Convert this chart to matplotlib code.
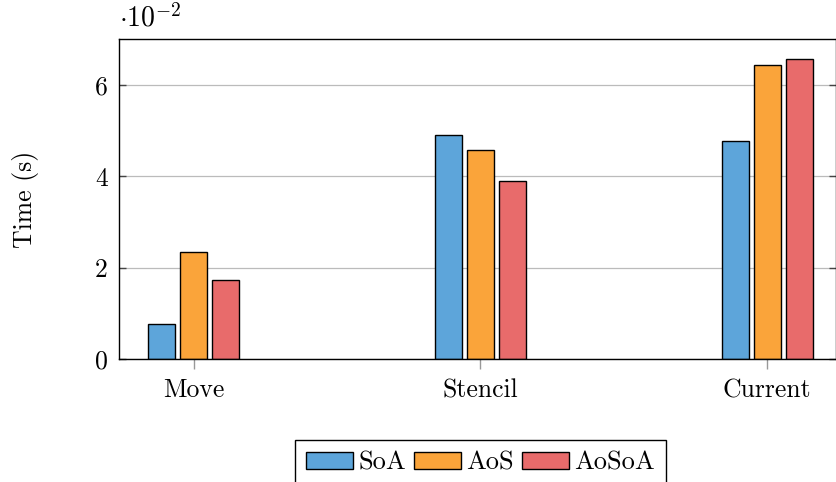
import numpy as np
import matplotlib
matplotlib.use("Agg")
from matplotlib import pyplot as plt
from matplotlib.ticker import FuncFormatter

categories = ["Move", "Stencil", "Current"]
series_names = ["SoA", "AoS", "AoSoA"]
soa = [0.0076, 0.0491, 0.0476]
aos = [0.0233, 0.0457, 0.0644]
aosoa = [0.0172, 0.0389, 0.0657]
colors = ["#5DA5DA", "#FAA43A", "#E86B6B"]

plt.rcParams["font.family"] = "serif"
plt.rcParams["font.serif"] = ["cmr10", "DejaVu Serif"]
plt.rcParams["mathtext.fontset"] = "cm"
plt.rcParams["axes.formatter.use_mathtext"] = True
plt.rcParams["font.size"] = 18.5

fig = plt.figure(figsize=(8.37, 4.82), dpi=100)
ax = fig.add_axes([0.1422, 0.2552, 0.8566, 0.6639])

x = np.arange(len(categories))
width = 0.094
step = 0.1115
for i, (vals, name) in enumerate(zip([soa, aos, aosoa], series_names)):
    ax.bar(x + (i - 1) * step, vals, width, color=colors[i], edgecolor="black",
           linewidth=1.0, label=name, zorder=3)

ax.set_xlim(-0.26, 2.24)
ax.set_ylim(0, 0.07)
ax.set_yticks([0, 0.02, 0.04, 0.06])
ax.yaxis.set_major_formatter(FuncFormatter(lambda v, p: f"{v * 100:g}"))
ax.set_xticks(x)
ax.set_xticklabels(categories)
ax.grid(axis="y", color="#bbbbbb", linewidth=0.9, zorder=0)
ax.tick_params(axis="x", direction="out", length=7, color="#999999", width=1, pad=7)
ax.tick_params(axis="y", direction="in", length=5, color="#444444", width=1, pad=8,
               right=True)
for s in ax.spines.values():
    s.set_linewidth(1.0)
    s.set_zorder(4)

ax.set_ylabel("Time (s)", labelpad=40)
ax.text(0.0, 1.02, r"$\cdot 10^{-2}$", transform=ax.transAxes, ha="left", va="bottom",
        fontsize=20)

leg = ax.legend(loc="upper center", bbox_to_anchor=(0.504, -0.253), ncol=3,
                frameon=True, fancybox=False, edgecolor="black", framealpha=1,
                handlelength=1.79, handleheight=0.62, handletextpad=0.19,
                columnspacing=0.3, borderpad=0.42, borderaxespad=0,
                fontsize=19)
leg.get_frame().set_linewidth(1.0)

fig.savefig("out.png", dpi=100)
